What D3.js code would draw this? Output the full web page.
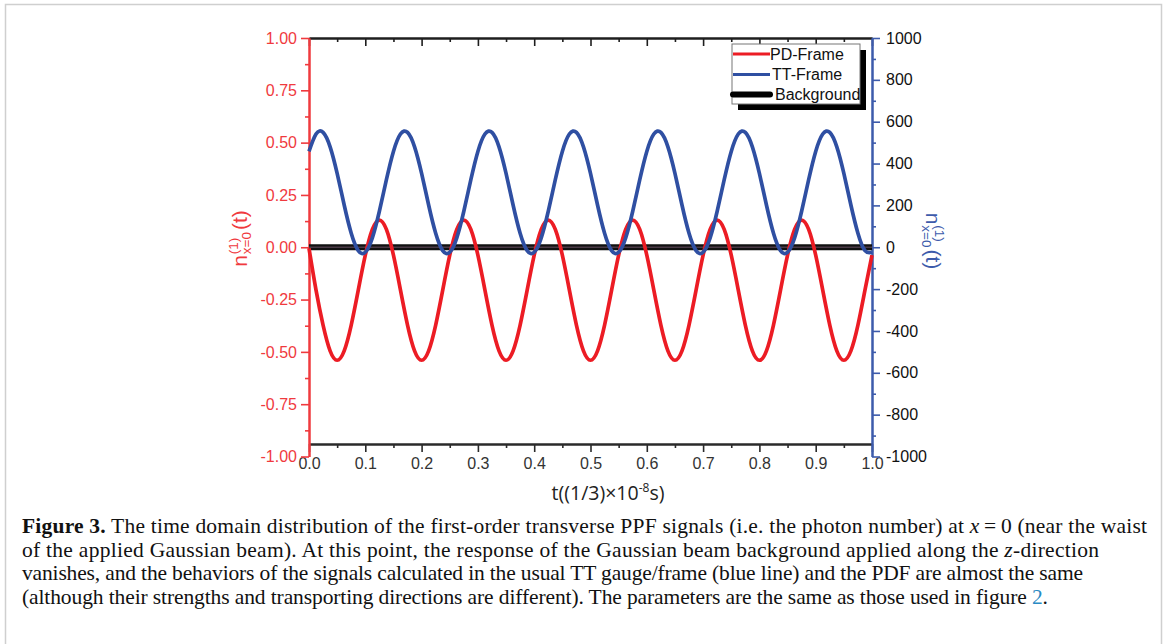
<!DOCTYPE html>
<html><head><meta charset="utf-8">
<script src="https://cdn.jsdelivr.net/npm/d3@7"></script>
<style>body{margin:0;background:#fff;} svg{display:block}</style>
</head><body><svg id="c" width="1167" height="644"></svg>
<script>
// ---------- data ----------
const tValues = [
  0, 0.0125, 0.025, 0.0375, 0.05, 0.0625, 0.075, 0.0875, 0.1, 0.1125, 0.125, 0.1375,
  0.15, 0.1625, 0.175, 0.1875, 0.2, 0.2125, 0.225, 0.2375, 0.25, 0.2625, 0.275, 0.2875,
  0.3, 0.3125, 0.325, 0.3375, 0.35, 0.3625, 0.375, 0.3875, 0.4, 0.4125, 0.425, 0.4375,
  0.45, 0.4625, 0.475, 0.4875, 0.5, 0.5125, 0.525, 0.5375, 0.55, 0.5625, 0.575, 0.5875,
  0.6, 0.6125, 0.625, 0.6375, 0.65, 0.6625, 0.675, 0.6875, 0.7, 0.7125, 0.725, 0.7375,
  0.75, 0.7625, 0.775, 0.7875, 0.8, 0.8125, 0.825, 0.8375, 0.85, 0.8625, 0.875, 0.8875,
  0.9, 0.9125, 0.925, 0.9375, 0.95, 0.9625, 0.975, 0.9875, 1.0
];
// PD-Frame (left axis)
const pdFrame = [
  -0.005, -0.205, -0.372, -0.495, -0.54, -0.495, -0.372, -0.205, -0.038, 0.085, 0.13, 0.085,
  -0.038, -0.205, -0.372, -0.495, -0.54, -0.495, -0.372, -0.205, -0.038, 0.085, 0.13, 0.085,
  -0.038, -0.205, -0.372, -0.495, -0.54, -0.495, -0.372, -0.205, -0.038, 0.085, 0.13, 0.085,
  -0.038, -0.205, -0.372, -0.495, -0.54, -0.495, -0.372, -0.205, -0.038, 0.085, 0.13, 0.085,
  -0.038, -0.205, -0.372, -0.495, -0.54, -0.495, -0.372, -0.205, -0.038, 0.085, 0.13, 0.085,
  -0.038, -0.205, -0.372, -0.495, -0.54, -0.495, -0.372, -0.205, -0.038, 0.085, 0.13, 0.085,
  -0.038, -0.205, -0.372, -0.495, -0.54, -0.495, -0.372, -0.205, -0.038
];
// TT-Frame (right axis)
const ttFrame = [
  458, 541, 549, 480, 353, 202, 67, -16, -24, 45, 172, 323,
  458, 541, 549, 480, 353, 202, 67, -16, -24, 45, 172, 323,
  458, 541, 549, 480, 353, 202, 67, -16, -24, 45, 172, 323,
  458, 541, 549, 480, 353, 202, 67, -16, -24, 45, 172, 323,
  458, 541, 549, 480, 353, 202, 67, -16, -24, 45, 172, 323,
  458, 541, 549, 480, 353, 202, 67, -16, -24, 45, 172, 323,
  458, 541, 549, 480, 353, 202, 67, -16, -24
];
// Background (left axis)
const backgroundT = [0, 1];
const background = [0, 0];

const seriesNames = ["PD-Frame", "TT-Frame", "Background"];
const xTicks = [0, 0.1, 0.2, 0.3, 0.4, 0.5, 0.6, 0.7, 0.8, 0.9, 1.0];
const xMinorTicks = [0.05, 0.15, 0.25, 0.35, 0.45, 0.55, 0.65, 0.75, 0.85, 0.95];
const leftTicks = [-1, -0.75, -0.5, -0.25, 0, 0.25, 0.5, 0.75, 1];
const leftMinorTicks = [-0.875, -0.625, -0.375, -0.125, 0.125, 0.375, 0.625, 0.875];
const rightTicks = [-1000, -800, -600, -400, -200, 0, 200, 400, 600, 800, 1000];
const rightMinorTicks = [-900, -700, -500, -300, -100, 100, 300, 500, 700, 900];

const captionLines = [
  [{b:true, s:"Figure 3."}, {s:" The time domain distribution of the first-order transverse PPF signals (i.e. the photon number) at "}, {i:true, s:"x"}, {s:"\u2009=\u20090 (near the waist"}],
  [{s:"of the applied Gaussian beam). At this point, the response of the Gaussian beam background applied along the "}, {i:true, s:"z"}, {s:"-direction"}],
  [{s:"vanishes, and the behaviors of the signals calculated in the usual TT gauge/frame (blue line) and the PDF are almost the same"}],
  [{s:"(although their strengths and transporting directions are different). The parameters are the same as those used in figure "}, {c:"#2a8ac4", s:"2"}, {s:"."}]
];

// ---------- drawing ----------
const RED = "#ec1c24", BLUE = "#2f4fa2", LRED = "#f03a3e", LBLUE = "#3d5bab";
const svg = d3.select("#c");
const FONT = "'Liberation Sans', Arial, sans-serif";

svg.append("rect").attr("x", 5.5).attr("y", 4.5).attr("width", 1156).attr("height", 660)
  .attr("fill", "none").attr("stroke", "#cfcfcf").attr("stroke-width", 1.5);

const X0 = 309, X1 = 872, YT = 38, YB = 456.5, XAXIS_Y = 444;
const x = d3.scaleLinear().domain([0, 1]).range([X0, X1]);
const yL = d3.scaleLinear().domain([-1, 1]).range([YB, YT]);
const yR = d3.scaleLinear().domain([-1000, 1000]).range([YB, YT]);

function styleAxis(g, color, textColor) {
  g.select(".domain").attr("stroke", color).attr("stroke-width", 2);
  g.selectAll(".tick line").attr("stroke", color).attr("stroke-width", 1.6);
  g.selectAll(".tick text").attr("fill", textColor).attr("font-family", FONT).attr("font-size", 16);
}
const hy = s => s.replace("\u2212", "-");

// top axis
const gTop = svg.append("g").attr("transform", `translate(0,${YT})`);
gTop.call(d3.axisBottom(x).tickValues(xTicks).tickSize(8).tickSizeOuter(0).tickFormat(""));
styleAxis(gTop, "#1e1e1e", "#333");
const gTopM = svg.append("g").attr("transform", `translate(0,${YT})`);
gTopM.call(d3.axisBottom(x).tickValues(xMinorTicks).tickSize(4).tickSizeOuter(0).tickFormat(""));
styleAxis(gTopM, "#1e1e1e", "#333");

// bottom axis
const gBot = svg.append("g").attr("transform", `translate(0,${XAXIS_Y})`);
gBot.call(d3.axisBottom(x).tickValues(xTicks).tickSize(8).tickPadding(6).tickSizeOuter(0).tickFormat(d3.format(".1f")));
styleAxis(gBot, "#2a2a2a", "#333");
const gBotM = svg.append("g").attr("transform", `translate(0,${XAXIS_Y})`);
gBotM.call(d3.axisBottom(x).tickValues(xMinorTicks).tickSize(4).tickSizeOuter(0).tickFormat(""));
styleAxis(gBotM, "#2a2a2a", "#333");

// left axis
const gL = svg.append("g").attr("transform", `translate(${X0},0)`);
gL.call(d3.axisLeft(yL).tickValues(leftTicks).tickSize(8).tickPadding(4).tickSizeOuter(0).tickFormat(d => hy(d3.format(".2f")(d))));
styleAxis(gL, LRED, LRED);
const gLM = svg.append("g").attr("transform", `translate(${X0},0)`);
gLM.call(d3.axisLeft(yL).tickValues(leftMinorTicks).tickSize(4).tickSizeOuter(0).tickFormat(""));
styleAxis(gLM, LRED, LRED);

// right axis
const gR = svg.append("g").attr("transform", `translate(${X1},0)`);
gR.call(d3.axisRight(yR).tickValues(rightTicks).tickSize(8).tickPadding(6).tickSizeOuter(0).tickFormat(d => hy(d3.format("d")(d))));
styleAxis(gR, LBLUE, "#111");
const gRM = svg.append("g").attr("transform", `translate(${X1},0)`);
gRM.call(d3.axisRight(yR).tickValues(rightMinorTicks).tickSize(4).tickSizeOuter(0).tickFormat(""));
styleAxis(gRM, LBLUE, "#111");

// ---------- series ----------
const bgLine = d3.line().x((d, i) => x(backgroundT[i])).y(d => yL(d));
svg.append("path").datum(background).attr("d", bgLine).attr("fill", "none")
  .attr("stroke", "#111").attr("stroke-width", 6);
svg.append("path").datum(background).attr("d", bgLine).attr("fill", "none")
  .attr("stroke", "#4a3a46").attr("stroke-width", 1.5);

const redLine = d3.line().curve(d3.curveNatural).x((d, i) => x(tValues[i])).y(d => yL(d));
svg.append("path").datum(pdFrame).attr("d", redLine).attr("fill", "none")
  .attr("stroke", RED).attr("stroke-width", 3.7).attr("stroke-linejoin", "round");

const blueLine = d3.line().curve(d3.curveNatural).x((d, i) => x(tValues[i])).y(d => yR(d));
svg.append("path").datum(ttFrame).attr("d", blueLine).attr("fill", "none")
  .attr("stroke", BLUE).attr("stroke-width", 3.7).attr("stroke-linejoin", "round");

// ---------- legend ----------
const lg = svg.append("g");
lg.append("rect").attr("x", 738).attr("y", 50).attr("width", 128).attr("height", 60).attr("fill", "#000");
lg.append("rect").attr("x", 732).attr("y", 44).attr("width", 128).attr("height", 60)
  .attr("fill", "#fff").attr("stroke", "#777").attr("stroke-width", 1);
const legendStyle = [
  {c: RED, w: 3, y: 54, tx: 770},
  {c: BLUE, w: 3, y: 74.5, tx: 772},
  {c: "#000", w: 6, y: 94.5, tx: 775}
];
seriesNames.forEach((name, i) => {
  const s = legendStyle[i];
  lg.append("line").attr("x1", 733).attr("x2", 770).attr("y1", s.y).attr("y2", s.y)
    .attr("stroke", s.c).attr("stroke-width", s.w).attr("stroke-linecap", i === 2 ? "round" : "butt");
  lg.append("text").attr("x", s.tx).attr("y", s.y).attr("dy", "0.36em")
    .attr("font-family", FONT).attr("font-size", 16).attr("fill", "#111").text(name);
});

// ---------- axis titles ----------
function stackedLabel(cx, cy, rot, color) {
  const outer = svg.append("g").attr("transform", `translate(${cx},${cy}) rotate(${rot})`);
  const g = outer.append("g").attr("font-family", FONT).attr("fill", color);
  const big = 21, small = 13.5;
  const t1 = g.append("text").attr("font-size", big).text("n");
  const w1 = t1.node().getComputedTextLength();
  const sup = g.append("text").attr("x", w1 + 1).attr("y", -9).attr("font-size", small).text("(1)");
  const sub = g.append("text").attr("x", w1 + 1).attr("y", 4).attr("font-size", small).text("x=0");
  const w2 = Math.max(sup.node().getComputedTextLength(), sub.node().getComputedTextLength());
  const t3 = g.append("text").attr("x", w1 + 2 + w2 + 1).attr("font-size", big).text("(t)");
  const total = w1 + 2 + w2 + 1 + t3.node().getComputedTextLength();
  g.attr("transform", `translate(${-total / 2},0)`);
}
stackedLabel(247, 238.5, -90, LRED);
stackedLabel(926, 241, 90, LBLUE);

// x title
const xt = svg.append("text").attr("x", 608).attr("y", 500).attr("text-anchor", "middle")
  .attr("font-family", "'Open Sans', 'Noto Sans', sans-serif").attr("font-size", 19.5).attr("fill", "#222");
xt.append("tspan").text("t((1/3)\u00d710");
xt.append("tspan").attr("font-size", 12).attr("dy", -8).text("-8");
xt.append("tspan").attr("dy", 8).text("s)");

// ---------- caption ----------
const capBase = [533, 556.5, 580, 603.5];
const capRight = [1147, 1099, 1083, 1048];
captionLines.forEach((line, li) => {
  const t = svg.append("text").attr("x", 22).attr("y", capBase[li])
    .attr("font-family", "'Liberation Serif', 'Times New Roman', serif").attr("font-size", 21.5).attr("fill", "#111");
  line.forEach(p => {
    const sp = t.append("tspan").text(p.s);
    if (p.b) sp.attr("font-weight", "bold");
    if (p.i) sp.attr("font-style", "italic");
    if (p.c) sp.attr("fill", p.c);
  });
  const n = line.reduce((a, p) => a + p.s.length, 0);
  const w = t.node().getComputedTextLength();
  const target = capRight[li] - 22;
  t.attr("letter-spacing", ((target - w) / (n - 1)).toFixed(3));
});
</script>
</body></html>
